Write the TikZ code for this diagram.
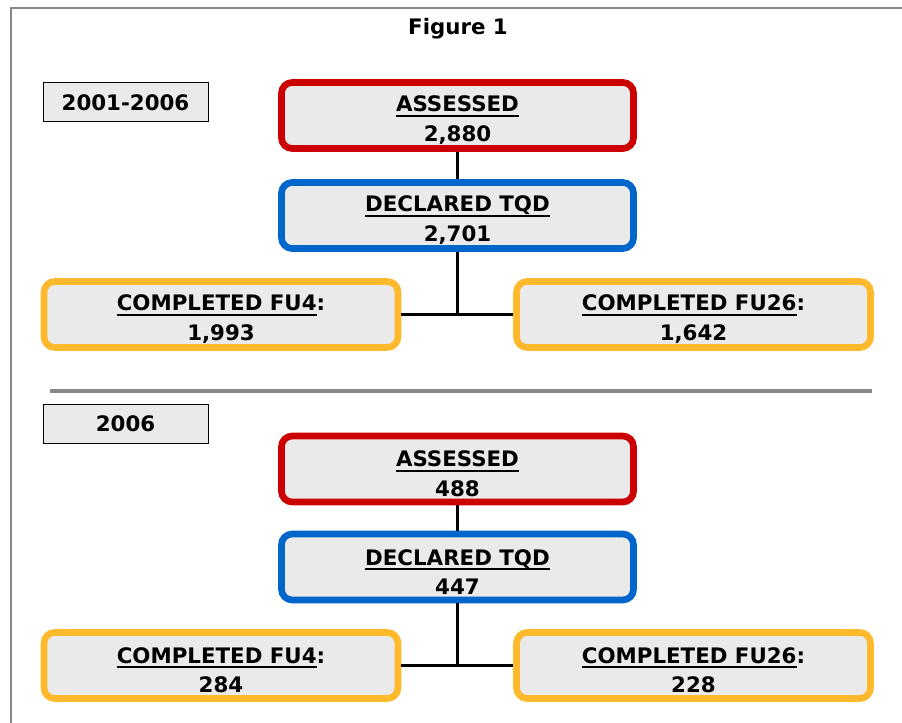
\documentclass[tikz,border=0pt]{standalone}
\usepackage{fontspec}
\setmainfont{DejaVu Sans}
\definecolor{boxred}{RGB}{204,0,0}
\definecolor{boxblue}{RGB}{0,102,204}
\definecolor{boxgold}{RGB}{255,185,44}
\definecolor{boxfill}{RGB}{234,234,234}
\definecolor{rulegray}{RGB}{136,136,136}
\newcommand\undr[1]{\setbox0\hbox{#1}\rlap{\rule[-3.5pt]{\wd0}{1.5pt}}\box0}

\begin{document}
\begin{tikzpicture}[x=0.75pt,y=-0.75pt,
  every node/.style={font=\fontsize{16}{22}\selectfont\bfseries},
  stage/.style={draw,line width=5pt,rounded corners=8pt,fill=boxfill,align=center,
    minimum width=264pt,minimum height=49.5pt,inner sep=0pt,text height=41pt},
  assessed/.style={stage,draw=boxred},
  declared/.style={stage,draw=boxblue},
  completed/.style={stage,draw=boxgold,minimum width=265.5pt},
  period/.style={draw,line width=0.75pt,fill=boxfill,minimum width=123.75pt,
    minimum height=29.25pt,inner sep=0pt},
  link/.style={line width=2pt}]
\useasboundingbox (0,0) rectangle (902,723);
\draw[rulegray,line width=1.5pt] (902,8.3) -- (11,8.3) -- (11,723);

\node[anchor=base] (fig) at (458,35) {Figure 1};

% 2001-2006
\node[period] (p1) at (125.5,102.5) {2001-2006};
\node[assessed] (a1) at (457.5,115.5) {\undr{ASSESSED}\\2,880};
\node[declared] (d1) at (457.5,215.5) {\undr{DECLARED TQD}\\2,701};
\node[completed] (c1) at (221,314.5) {\undr{COMPLETED FU4}:\\1,993};
\node[completed] (e1) at (693.5,314.5) {\undr{COMPLETED FU26}:\\1,642};
\draw[link] (a1) -- (d1);
\draw[link] (d1) -- (d1 |- c1);
\draw[link] (c1) -- (e1);

\draw[rulegray,line width=2.5pt] (50,391) -- (872,391);

% 2006
\node[period] (p2) at (125.5,424) {2006};
\node[assessed] (a2) at (457.5,469) {\undr{ASSESSED}\\488};
\node[declared] (d2) at (457.5,567) {\undr{DECLARED TQD}\\447};
\node[completed] (c2) at (221,665.5) {\undr{COMPLETED FU4}:\\284};
\node[completed] (e2) at (693.5,665.5) {\undr{COMPLETED FU26}:\\228};
\draw[link] (a2) -- (d2);
\draw[link] (d2) -- (d2 |- c2);
\draw[link] (c2) -- (e2);
\end{tikzpicture}
\end{document}
